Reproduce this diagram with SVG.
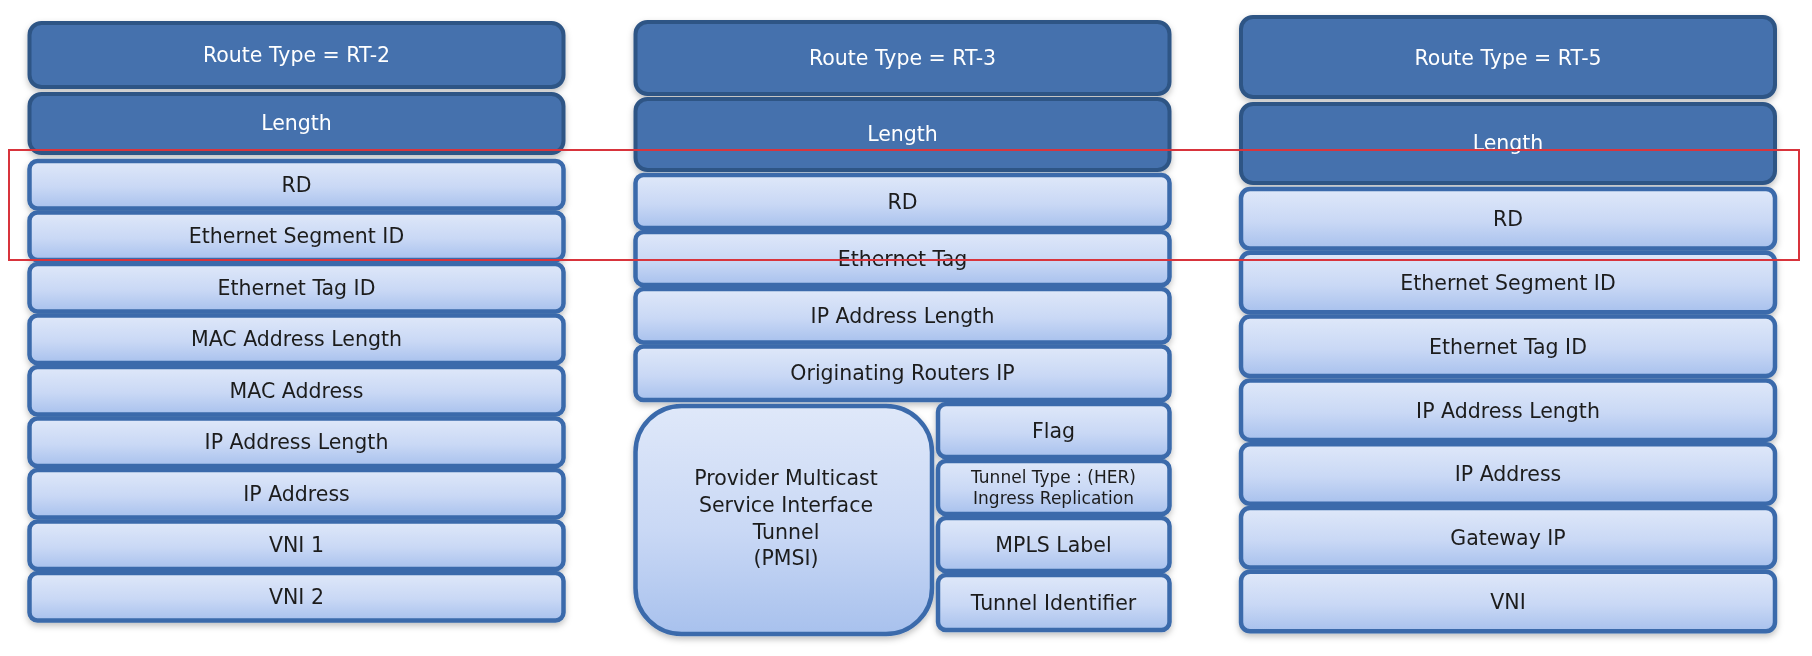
<svg xmlns="http://www.w3.org/2000/svg" width="1812" height="656" viewBox="0 0 1812 656">
<style>
.hd{fill:#4471ad;stroke:#2e5585;stroke-width:4}
.fl{fill:url(#lg);stroke:#3b6bab;stroke-width:4.5}
.tw{font-family:"DejaVu Sans","Noto Sans",sans-serif;font-size:20.5px;fill:#ffffff;text-anchor:middle;dominant-baseline:central}
.tb{font-family:"DejaVu Sans","Noto Sans",sans-serif;font-size:20.5px;fill:#1c1c1c;text-anchor:middle;dominant-baseline:central}
.ts{font-family:"DejaVu Sans","Noto Sans",sans-serif;font-size:17px;fill:#1c1c1c;text-anchor:middle;dominant-baseline:central}
</style>
<defs>
<linearGradient id="lg" x1="0" y1="0" x2="0" y2="1">
<stop offset="0" stop-color="#dfe8f9"/>
<stop offset="0.55" stop-color="#c9d8f5"/>
<stop offset="1" stop-color="#a8c1ed"/>
</linearGradient>
<filter id="sh" x="-5%" y="-5%" width="110%" height="115%">
<feDropShadow dx="0" dy="3" stdDeviation="3" flood-color="#000" flood-opacity="0.25"/>
</filter>
</defs>
<rect width="1812" height="656" fill="#ffffff"/>

<!-- RT-2 column -->
<g id="rt2" filter="url(#sh)">
<g id="rt2-type"><rect class="hd" x="29.5" y="23" width="534" height="64" rx="12"/><text class="tw" x="296.5" y="55">Route Type = RT-2</text></g>
<g id="rt2-length"><rect class="hd" x="29.5" y="94" width="534" height="59" rx="12"/><text class="tw" x="296.5" y="123">Length</text></g>
<g id="rt2-rd"><rect class="fl" x="29.5" y="161" width="534" height="47.5" rx="8"/><text class="tb" x="296.5" y="184.5">RD</text></g>
<g id="rt2-esid"><rect class="fl" x="29.5" y="212.5" width="534" height="47.5" rx="8"/><text class="tb" x="296.5" y="236">Ethernet Segment ID</text></g>
<g id="rt2-etid"><rect class="fl" x="29.5" y="264" width="534" height="47.5" rx="8"/><text class="tb" x="296.5" y="287.5">Ethernet Tag ID</text></g>
<g id="rt2-maclen"><rect class="fl" x="29.5" y="315.5" width="534" height="47.5" rx="8"/><text class="tb" x="296.5" y="339">MAC Address Length</text></g>
<g id="rt2-mac"><rect class="fl" x="29.5" y="367" width="534" height="47.5" rx="8"/><text class="tb" x="296.5" y="390.5">MAC Address</text></g>
<g id="rt2-iplen"><rect class="fl" x="29.5" y="418.5" width="534" height="47.5" rx="8"/><text class="tb" x="296.5" y="442">IP Address Length</text></g>
<g id="rt2-ip"><rect class="fl" x="29.5" y="470" width="534" height="47.5" rx="8"/><text class="tb" x="296.5" y="493.5">IP Address</text></g>
<g id="rt2-vni1"><rect class="fl" x="29.5" y="521.5" width="534" height="47.5" rx="8"/><text class="tb" x="296.5" y="545">VNI 1</text></g>
<g id="rt2-vni2"><rect class="fl" x="29.5" y="573" width="534" height="47.5" rx="8"/><text class="tb" x="296.5" y="596.5">VNI 2</text></g>
</g>

<!-- RT-3 column -->
<g id="rt3" filter="url(#sh)">
<g id="rt3-type"><rect class="hd" x="635.5" y="22" width="534" height="72" rx="12"/><text class="tw" x="902.5" y="58">Route Type = RT-3</text></g>
<g id="rt3-length"><rect class="hd" x="635.5" y="99" width="534" height="71" rx="12"/><text class="tw" x="902.5" y="134">Length</text></g>
<g id="rt3-rd"><rect class="fl" x="635.5" y="175" width="534" height="53" rx="8"/><text class="tb" x="902.5" y="201.5">RD</text></g>
<g id="rt3-etag"><rect class="fl" x="635.5" y="232" width="534" height="53" rx="8"/><text class="tb" x="902.5" y="259">Ethernet Tag</text></g>
<g id="rt3-iplen"><rect class="fl" x="635.5" y="289" width="534" height="53.5" rx="8"/><text class="tb" x="902.5" y="316">IP Address Length</text></g>
<g id="rt3-orip"><rect class="fl" x="635.5" y="346.5" width="534" height="53.5" rx="8"/><text class="tb" x="902.5" y="373">Originating Routers IP</text></g>
<g id="rt3-pmsi"><rect class="fl" x="635.5" y="406" width="296.5" height="228" rx="46"/>
<text class="tb" x="786" y="478">Provider Multicast</text>
<text class="tb" x="786" y="505">Service Interface</text>
<text class="tb" x="786" y="532">Tunnel</text>
<text class="tb" x="786" y="558">(PMSI)</text></g>
<g id="rt3-flag"><rect class="fl" x="938" y="404" width="231.5" height="53" rx="8"/><text class="tb" x="1053.5" y="430.5">Flag</text></g>
<g id="rt3-ttype"><rect class="fl" x="938" y="461" width="231.5" height="53" rx="8"/><text class="ts" x="1053.5" y="477">Tunnel Type : (HER)</text><text class="ts" x="1053.5" y="498">Ingress Replication</text></g>
<g id="rt3-mpls"><rect class="fl" x="938" y="518" width="231.5" height="53" rx="8"/><text class="tb" x="1053.5" y="544.5">MPLS Label</text></g>
<g id="rt3-tid"><rect class="fl" x="938" y="575" width="231.5" height="55" rx="8"/><text class="tb" x="1053.5" y="602.5">Tunnel Identifier</text></g>
</g>

<!-- RT-5 column -->
<g id="rt5" filter="url(#sh)">
<g id="rt5-type"><rect class="hd" x="1241" y="17" width="534" height="80" rx="12"/><text class="tw" x="1508" y="58">Route Type = RT-5</text></g>
<g id="rt5-length"><rect class="hd" x="1241" y="104" width="534" height="79" rx="12"/><text class="tw" x="1508" y="143">Length</text></g>
<g id="rt5-rd"><rect class="fl" x="1241" y="189" width="534" height="59.5" rx="9"/><text class="tb" x="1508" y="219">RD</text></g>
<g id="rt5-esid"><rect class="fl" x="1241" y="252.8" width="534" height="59.5" rx="9"/><text class="tb" x="1508" y="282.5">Ethernet Segment ID</text></g>
<g id="rt5-etid"><rect class="fl" x="1241" y="316.6" width="534" height="59.5" rx="9"/><text class="tb" x="1508" y="346.5">Ethernet Tag ID</text></g>
<g id="rt5-iplen"><rect class="fl" x="1241" y="380.4" width="534" height="59.5" rx="9"/><text class="tb" x="1508" y="410.5">IP Address Length</text></g>
<g id="rt5-ip"><rect class="fl" x="1241" y="444.2" width="534" height="59.5" rx="9"/><text class="tb" x="1508" y="474">IP Address</text></g>
<g id="rt5-gw"><rect class="fl" x="1241" y="508" width="534" height="59.5" rx="9"/><text class="tb" x="1508" y="538">Gateway IP</text></g>
<g id="rt5-vni"><rect class="fl" x="1241" y="571.8" width="534" height="59.5" rx="9"/><text class="tb" x="1508" y="602">VNI</text></g>
</g>

<!-- highlight rectangle -->
<g id="highlight"><rect x="9" y="150" width="1790" height="110" fill="none" stroke="#d8343c" stroke-width="2"/></g>
</svg>
